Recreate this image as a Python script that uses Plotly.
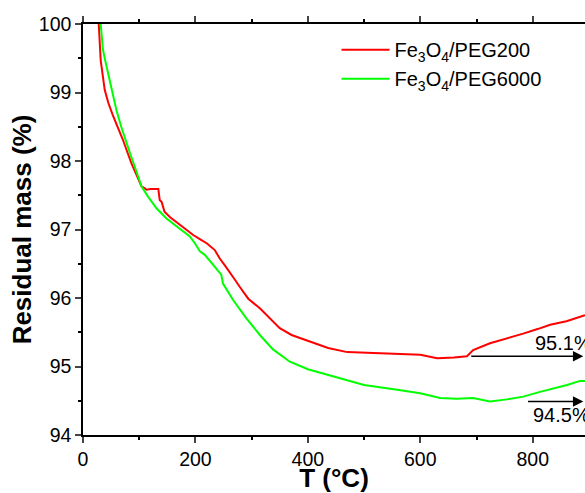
import plotly.graph_objects as go

# Fe3O4/PEG200
t_peg200 = [28, 31.5, 38.6, 45, 53, 62, 71, 78, 86, 95, 104, 110, 113, 120, 128, 134, 136.5, 140,
            145, 155, 166, 180, 196, 210, 220, 234.5, 243, 252, 261, 270, 279, 294, 314.6, 335,
            350, 371, 403.6, 436, 470, 500, 550, 600, 630, 660, 683, 694, 724, 750, 783, 810,
            831, 860, 893]
m_peg200 = [100, 99.47, 99.04, 98.85, 98.67, 98.50, 98.31, 98.15, 97.97, 97.80, 97.63, 97.60,
            97.58, 97.59, 97.59, 97.59, 97.43, 97.40, 97.26, 97.18, 97.11, 97.02, 96.92, 96.85,
            96.80, 96.70, 96.58, 96.48, 96.38, 96.27, 96.16, 95.99, 95.85, 95.68, 95.56, 95.46,
            95.36, 95.27, 95.21, 95.20, 95.19, 95.17, 95.12, 95.13, 95.15, 95.24, 95.34, 95.40,
            95.48, 95.55, 95.61, 95.66, 95.75]

# Fe3O4/PEG6000
t_peg6000 = [31.5, 35.6, 40, 47.5, 53, 59.5, 68, 77, 85, 92, 104, 115.7, 130.7, 148.5, 172, 190,
             199, 208, 216.7, 237.5, 246, 249, 267, 291, 314.6, 338, 368, 400, 450, 500, 550,
             600, 635, 665, 694, 724, 754, 783, 813, 840, 861, 884, 893]
m_peg6000 = [100, 99.62, 99.45, 99.18, 98.97, 98.74, 98.50, 98.26, 98.08, 97.92, 97.63, 97.48,
             97.31, 97.16, 97.02, 96.90, 96.80, 96.68, 96.63, 96.43, 96.34, 96.21, 95.97, 95.70,
             95.46, 95.25, 95.07, 94.96, 94.85, 94.73, 94.67, 94.61, 94.54, 94.53, 94.54, 94.49,
             94.52, 94.56, 94.63, 94.68, 94.73, 94.79, 94.79]

# Residual-mass markers: (arrow start T, level, label)
residual_start = [688, 789]
residual_level = [95.15, 94.49]
residual_label = ["95.1%", "94.5%"]

x_ticks = [0, 200, 400, 600, 800]
y_ticks = [94, 95, 96, 97, 98, 99, 100]

FONT = "Liberation Sans, Arial, sans-serif"

fig = go.Figure()
fig.add_trace(go.Scatter(x=t_peg200, y=m_peg200, mode="lines",
                         name="Fe<sub>3</sub>O<sub>4</sub>/PEG200",
                         line=dict(color="#ff0000", width=2)))
fig.add_trace(go.Scatter(x=t_peg6000, y=m_peg6000, mode="lines",
                         name="Fe<sub>3</sub>O<sub>4</sub>/PEG6000",
                         line=dict(color="#00ff00", width=2)))

annotations = []
for i in range(len(residual_level)):
    annotations.append(dict(x=890, y=residual_level[i], ax=residual_start[i], ay=residual_level[i],
                            xref="x", yref="y", axref="x", ayref="y", text="",
                            showarrow=True, arrowhead=2, arrowsize=1.3, arrowwidth=1.6,
                            arrowcolor="black", standoff=0))
annotations.append(dict(x=801, y=residual_level[0], xref="x", yref="y", text=residual_label[0],
                        showarrow=False, xanchor="left", yanchor="bottom", yshift=0,
                        font=dict(family=FONT, size=20, color="black")))
annotations.append(dict(x=797, y=residual_level[1], xref="x", yref="y", text=residual_label[1],
                        showarrow=False, xanchor="left", yanchor="top", yshift=-1,
                        font=dict(family=FONT, size=20, color="black")))

fig.update_layout(
    width=585, height=493,
    margin=dict(l=83, r=0, t=24, b=58),
    paper_bgcolor="white", plot_bgcolor="white",
    font=dict(family=FONT, size=19.5, color="black"),
    showlegend=True,
    legend=dict(x=0.505, y=0.985, xanchor="left", yanchor="top",
                bgcolor="rgba(0,0,0,0)", font=dict(family=FONT, size=20),
                itemwidth=48, tracegroupgap=0),
    annotations=annotations,
)
fig.update_xaxes(range=[0, 893], tickvals=x_ticks, ticks="outside", ticklen=6, tickwidth=1.5,
                 showline=True, linecolor="black", linewidth=1.5, mirror="ticks",
                 showgrid=False, zeroline=False,
                 minor=dict(dtick=100, ticks="outside", ticklen=3, tickwidth=1.5, tickcolor="black"),
                 tickfont=dict(family=FONT, size=19.5),
                 title=dict(text="<b>T (°C)</b>", font=dict(family=FONT, size=26), standoff=3))
fig.update_yaxes(range=[94, 100], tickvals=y_ticks, ticks="outside", ticklen=6, tickwidth=1.5,
                 showline=True, linecolor="black", linewidth=1.5,
                 showgrid=False, zeroline=False,
                 minor=dict(dtick=0.5, ticks="outside", ticklen=3, tickwidth=1.5, tickcolor="black"),
                 tickfont=dict(family=FONT, size=19.5),
                 title=dict(text="<b>Residual mass (%)</b>", font=dict(family=FONT, size=26), standoff=0))

fig.write_html("out.html", config={"displayModeBar": False},
               post_script="document.body.style.margin='0';document.body.style.overflow='hidden';")
